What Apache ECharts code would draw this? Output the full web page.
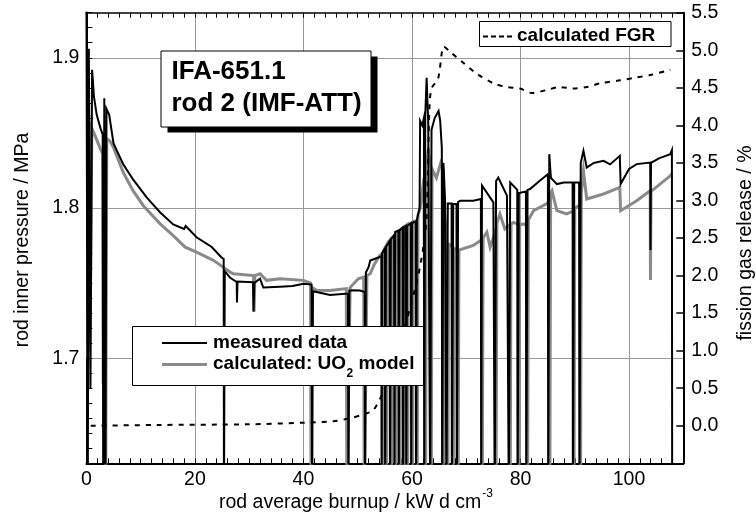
<!DOCTYPE html>
<html><head><meta charset="utf-8">
<script src="https://cdn.jsdelivr.net/npm/echarts@6/dist/echarts.min.js"></script>
<style>html,body{margin:0;padding:0;background:#fff}#c{width:756px;height:524px}</style>
</head><body><div id="c"></div>
<script>
// ---- data (burnup kW d cm^-3, pressure MPa, FGR %) ----
const measured = [[0,1.95],[0.25,1.60],[0.45,1.906],[0.75,1.68],[1.05,1.892],[1.4,1.874],[1.9,1.862],[2.6,1.853],[3.0,1.849],[3.1,1.60],[3.3,1.873],[3.5,1.60],[3.7,1.866],[4.2,1.862],[5.0,1.843],[6.8,1.829],[8.6,1.819],[11.1,1.807],[13.6,1.797],[16.0,1.789],[18.0,1.786],[18.3,1.788],[20.3,1.7805],[23.1,1.774],[24.9,1.767],[25.3,1.766],[25.35,1.60],[25.5,1.758],[26.5,1.7535],[27.7,1.7507],[27.75,1.737],[27.85,1.751],[30.7,1.7505],[30.8,1.731],[30.95,1.750],[32.0,1.7529],[32.6,1.747],[35.7,1.7475],[38.0,1.748],[40.0,1.7496],[41.5,1.749],[41.6,1.60],[41.75,1.7445],[42.4,1.744],[44.9,1.742],[48.2,1.743],[48.3,1.60],[48.45,1.745],[49.2,1.7452],[50.4,1.745],[51.3,1.744],[51.35,1.60],[51.5,1.757],[52.0,1.7606],[52.3,1.765],[53.8,1.767],[54.35,1.768],[54.4,1.60],[54.5,1.770],[55.0,1.773],[55.05,1.60],[55.2,1.774],[55.9,1.778],[55.95,1.60],[56.1,1.779],[56.7,1.782],[56.75,1.60],[56.9,1.784],[57.5,1.785],[57.55,1.60],[57.7,1.785],[58.3,1.787],[58.35,1.60],[58.5,1.787],[58.9,1.788],[58.95,1.60],[59.1,1.788],[59.8,1.790],[59.85,1.60],[60.0,1.790],[60.7,1.791],[60.75,1.60],[60.9,1.792],[61.4,1.80],[61.5,1.858],[61.9,1.855],[62.2,1.86],[62.25,1.60],[62.45,1.862],[62.7,1.8866],[63.0,1.856],[63.3,1.856],[63.35,1.60],[63.6,1.852],[64.2,1.86],[64.9,1.8645],[65.2,1.858],[65.5,1.84],[65.55,1.60],[65.8,1.83],[66.1,1.805],[66.3,1.805],[66.35,1.60],[66.6,1.803],[67.3,1.803],[67.35,1.60],[67.6,1.8027],[68.2,1.8027],[68.25,1.60],[68.5,1.804],[68.9,1.8048],[71.3,1.8048],[72.7,1.806],[72.75,1.60],[72.9,1.815],[73.1,1.8148],[75.0,1.8037],[75.2,1.8035],[75.25,1.60],[75.5,1.818],[75.9,1.8203],[77.5,1.8082],[77.8,1.808],[77.85,1.60],[78.1,1.817],[78.4,1.8181],[79.4,1.812],[79.45,1.60],[79.7,1.810],[79.9,1.8093],[81.0,1.811],[81.05,1.60],[81.3,1.812],[81.75,1.8126],[83.5,1.818],[85.05,1.8225],[85.1,1.60],[85.3,1.8358],[85.6,1.82],[86.7,1.8159],[88.0,1.817],[89.6,1.817],[89.65,1.60],[89.9,1.817],[90.8,1.817],[90.85,1.60],[91.1,1.83],[91.6,1.838],[92.2,1.8269],[93.5,1.830],[95.3,1.8314],[96.5,1.829],[98.3,1.8347],[98.45,1.8159],[98.7,1.8159],[100.0,1.826],[101.4,1.8292],[103.9,1.8302],[103.95,1.772],[104.05,1.830],[105.5,1.833],[107.6,1.8358],[107.9,1.8385],[107.95,1.60]];

const calculated = [[0.2,1.70],[0.45,1.862],[0.7,1.72],[1.0,1.853],[1.5,1.849],[2.5,1.840],[3.0,1.836],[3.1,1.683],[3.25,1.845],[3.55,1.60],[3.75,1.846],[4.35,1.8446],[5.0,1.8402],[6.8,1.8236],[8.6,1.8115],[10.5,1.8015],[13.6,1.7894],[16.0,1.7816],[18.2,1.7739],[18.4,1.775],[20.3,1.7706],[23.4,1.7651],[25.2,1.7606],[26.5,1.7573],[27.1,1.7562],[30.8,1.755],[30.9,1.731],[31.05,1.755],[32.0,1.7562],[33.2,1.7518],[35.7,1.7529],[40.0,1.7518],[41.3,1.750],[41.4,1.60],[41.6,1.747],[42.4,1.7452],[44.9,1.745],[47.9,1.7463],[48.0,1.60],[48.6,1.747],[50.1,1.7529],[51.1,1.754],[51.2,1.60],[51.7,1.755],[52.3,1.7562],[53.0,1.762],[54.0,1.768],[54.6,1.770],[54.65,1.60],[54.8,1.772],[55.25,1.775],[55.3,1.60],[55.45,1.776],[55.9,1.7783],[56.15,1.779],[56.2,1.60],[56.35,1.780],[56.95,1.782],[57.0,1.60],[57.15,1.783],[57.75,1.785],[57.8,1.60],[57.95,1.786],[58.4,1.7871],[58.55,1.787],[58.6,1.60],[58.75,1.788],[59.15,1.789],[59.2,1.60],[59.35,1.789],[60.05,1.790],[60.1,1.60],[60.25,1.791],[60.9,1.7916],[60.95,1.60],[61.1,1.795],[61.5,1.80],[62.2,1.82],[62.45,1.821],[62.5,1.60],[62.65,1.83],[63.0,1.838],[63.5,1.827],[63.55,1.60],[63.7,1.826],[64.5,1.82],[65.3,1.83],[65.75,1.826],[65.8,1.60],[65.95,1.80],[66.4,1.7783],[66.55,1.777],[66.6,1.60],[66.75,1.776],[67.55,1.774],[67.6,1.60],[67.75,1.773],[68.45,1.772],[68.5,1.60],[68.65,1.772],[68.9,1.7717],[71.3,1.775],[72.9,1.779],[72.95,1.60],[73.1,1.78],[73.8,1.7838],[74.4,1.7739],[75.45,1.785],[75.5,1.60],[75.65,1.79],[76.2,1.796],[77.1,1.7861],[78.05,1.789],[78.1,1.60],[78.25,1.789],[78.7,1.7904],[79.65,1.789],[79.7,1.60],[79.85,1.789],[81.1,1.7894],[81.25,1.790],[81.3,1.60],[81.45,1.792],[82.4,1.7982],[84.8,1.8027],[85.35,1.805],[85.4,1.60],[85.55,1.81],[85.8,1.8115],[86.7,1.7982],[88.5,1.796],[89.8,1.798],[89.85,1.60],[90.0,1.80],[91.0,1.802],[91.05,1.60],[91.2,1.81],[91.6,1.8247],[92.2,1.806],[95.3,1.8093],[98.3,1.8137],[98.45,1.7982],[98.7,1.7982],[101.4,1.8048],[103.9,1.8115],[103.95,1.752],[104.05,1.811],[107.6,1.8214],[107.9,1.8229]];

const fgr = [[0.8,0.0],[13,0.01],[30,0.02],[40,0.04],[45.5,0.06],[48.6,0.10],[51,0.15],[52.9,0.21],[55,0.5],[57,0.9],[59,1.4],[61,1.95],[62.1,2.38],[62.7,2.78],[63.2,4.2],[63.6,4.49],[64.8,4.62],[65.9,5.05],[67.0,4.98],[69.5,4.83],[71.9,4.69],[75.0,4.56],[77.5,4.51],[79.9,4.49],[82.1,4.43],[84.8,4.47],[87.2,4.51],[89.7,4.49],[92.2,4.51],[94.7,4.56],[98.4,4.60],[100.8,4.63],[103.9,4.67],[107.6,4.74]];

const xTickLabels = [0, 20, 40, 60, 80, 100];
const leftTickLabels = [1.7, 1.8, 1.9];
const rightTickLabels = [0.0, 0.5, 1.0, 1.5, 2.0, 2.5, 3.0, 3.5, 4.0, 4.5, 5.0, 5.5];

const titleLines = ['IFA-651.1', 'rod 2 (IMF-ATT)'];
const legendMeasured = 'measured data';
const legendCalc = ['calculated: UO', '2', ' model'];
const legendFgr = 'calculated FGR';
const xTitle = ['rod average burnup / kW d cm', '-3'];
const yTitleLeft = 'rod inner pressure / MPa';
const yTitleRight = 'fission gas release / %';

// ---- rendering ----
const FF = "'Liberation Sans', Arial, Helvetica, sans-serif";
const ctx = document.createElement('canvas').getContext('2d');
function tw(t, font) { ctx.font = font; return ctx.measureText(t).width; }
const near = (arr, v) => arr.some(t => Math.abs(t - v) < 1e-6);
const T = 'rgba(0,0,0,0)';
const GRID = '#999';

const chart = echarts.init(document.getElementById('c'), null, {renderer: 'canvas'});

const fB19 = 'bold 19px ' + FF;
const fB12 = 'bold 12px ' + FF;
const calcX = 213;
const w1 = tw(legendCalc[0], fB19), w2 = tw(legendCalc[1], fB12);
const fTitle = '19.5px ' + FF;
const xtX = 219;
const xtW = tw(xTitle[0], fTitle);

function txt(x, y, text, font, align, rot) {
  return {type: 'text', x: x, y: y, rotation: rot || 0, z: 100,
    style: {text: text, font: font, fill: '#000', align: align || 'left', verticalAlign: 'middle',
            textAlign: align || 'left', textVerticalAlign: 'middle'}};
}

chart.setOption({
  animation: false,
  backgroundColor: '#fff',
  textStyle: {fontFamily: FF},
  grid: {left: 86.4, right: 72.7, top: 12.7, bottom: 60.7, containLabel: false},
  xAxis: [
    {type: 'value', position: 'bottom', min: 0, max: 110, interval: 2,
     axisLine: {show: true, onZero: false, lineStyle: {color: '#000', width: 2}},
     axisTick: {show: true, inside: true, length: 5, lineStyle: {color: '#000', width: 1}},
     axisLabel: {show: true, margin: 6, fontSize: 19.5, color: '#000', fontFamily: FF,
       formatter: v => near(xTickLabels, v) ? String(Math.round(v)) : ''},
     splitLine: {show: true, lineStyle: {color: [GRID, T, T, T, T, T, T, T, T, T], width: 1}}},
    {type: 'value', position: 'top', min: 0, max: 110, interval: 2,
     axisLine: {show: true, onZero: false, lineStyle: {color: '#000', width: 1.5}},
     axisTick: {show: true, inside: true, length: 5, lineStyle: {color: '#000', width: 1}},
     axisLabel: {show: false}, splitLine: {show: false}}
  ],
  yAxis: [
    {type: 'value', position: 'left', min: 1.63, max: 1.93, interval: 0.01,
     axisLine: {show: true, onZero: false, lineStyle: {color: '#000', width: 2}},
     axisTick: {show: true, inside: true, length: 6, lineStyle: {color: '#000', width: 1}},
     axisLabel: {show: true, margin: 7, fontSize: 19.5, color: '#000', fontFamily: FF,
       formatter: v => near(leftTickLabels, v) ? v.toFixed(1) : ''},
     splitLine: {show: true, lineStyle: {color: [T, T, T, T, T, T, T, GRID, T, T], width: 1}}},
    {type: 'value', position: 'right', min: -0.5, max: 5.5, interval: 0.5,
     axisLine: {show: true, onZero: false, lineStyle: {color: '#000', width: 2}},
     axisTick: {show: true, inside: true, length: 7, lineStyle: {color: '#000', width: 1.5}},
     axisLabel: {show: true, margin: 8, fontSize: 19.5, color: '#000', fontFamily: FF,
       formatter: v => near(rightTickLabels, v) ? v.toFixed(1) : ''},
     splitLine: {show: false}}
  ],
  series: [
    {name: 'calculated: UO2 model', type: 'line', xAxisIndex: 0, yAxisIndex: 0, data: calculated,
     showSymbol: false, symbol: 'none', z: 2, clip: true,
     lineStyle: {color: '#8a8a8a', width: 3, join: 'miter'}},
    {name: 'measured data', type: 'line', xAxisIndex: 0, yAxisIndex: 0, data: measured,
     showSymbol: false, symbol: 'none', z: 3, clip: true,
     lineStyle: {color: '#000', width: 2, join: 'miter'}},
    {name: 'calculated FGR', type: 'line', xAxisIndex: 0, yAxisIndex: 1, data: fgr,
     showSymbol: false, symbol: 'none', z: 4, clip: true, smooth: 0.3,
     lineStyle: {color: '#000', width: 2, type: [5, 6]}}
  ],
  graphic: [
    // title box with shadow
    {type: 'rect', z: 100, shape: {x: 167.5, y: 56.5, width: 210, height: 76}, style: {fill: '#000'}},
    {type: 'rect', z: 101, shape: {x: 161, y: 51, width: 210, height: 76}, style: {fill: '#fff', stroke: '#000', lineWidth: 1}},
    Object.assign(txt(171.5, 71.5, titleLines[0], 'bold 26px ' + FF), {z: 102}),
    Object.assign(txt(171.5, 104, titleLines[1], 'bold 26px ' + FF), {z: 102}),
    // main legend
    {type: 'rect', z: 100, shape: {x: 132.5, y: 326.5, width: 291, height: 59}, style: {fill: '#fff', stroke: '#000', lineWidth: 1}},
    {type: 'line', z: 101, shape: {x1: 162, y1: 343, x2: 207, y2: 343}, style: {stroke: '#000', lineWidth: 2}},
    {type: 'line', z: 101, shape: {x1: 162, y1: 364.5, x2: 207, y2: 364.5}, style: {stroke: '#8a8a8a', lineWidth: 3}},
    Object.assign(txt(calcX, 342.5, legendMeasured, fB19), {z: 102}),
    Object.assign(txt(calcX, 363.5, legendCalc[0], fB19), {z: 102}),
    Object.assign(txt(calcX + w1 + 0.5, 374, legendCalc[1], fB12), {z: 102}),
    Object.assign(txt(calcX + w1 + w2 + 0.5, 363.5, legendCalc[2], fB19), {z: 102}),
    // FGR legend
    {type: 'rect', z: 100, shape: {x: 479.5, y: 21.5, width: 191.5, height: 25}, style: {fill: '#fff', stroke: '#000', lineWidth: 1}},
    {type: 'line', z: 101, shape: {x1: 483, y1: 36.5, x2: 514, y2: 36.5}, style: {stroke: '#000', lineWidth: 2, lineDash: [5, 3]}},
    Object.assign(txt(517, 35.5, legendFgr, fB19), {z: 102}),
    // axis titles
    txt(xtX, 503, xTitle[0], fTitle),
    txt(xtX + xtW + 1, 494, xTitle[1], '12px ' + FF),
    txt(23, 240, yTitleLeft, fTitle, 'center', Math.PI / 2),
    txt(746, 243, yTitleRight, fTitle, 'center', Math.PI / 2)
  ]
});
</script>
</body></html>
